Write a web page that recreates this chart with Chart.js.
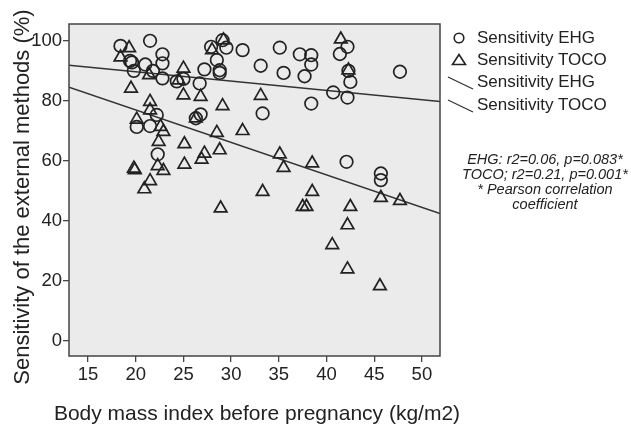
<!DOCTYPE html>
<html>
<head>
<meta charset="utf-8">
<script src="https://cdn.jsdelivr.net/npm/chart.js@4"></script>
<style>
    body { margin: 0; background: #fff; font-family: "Liberation Sans", Arial, sans-serif; }
    #wrap { position: relative; width: 631px; height: 429px; overflow: hidden; }
    .legend-row { position: absolute; left: 440px; height: 22px; line-height: 22px; font-size: 17px; color: #222; white-space: nowrap; }
    .legend-row svg { position: absolute; left: 0; top: 0; }
    .legend-row span { position: absolute; left: 37px; top: 0; }
    #note { position: absolute; left: 445px; top: 152px; width: 200px; text-align: center; font-style: italic; font-size: 14.5px; line-height: 15px; color: #222; }
    #xtitle { position: absolute; left: 0; top: 401px; width: 514px; line-height: 24px; text-align: center; font-size: 21px; color: #222; white-space: nowrap; }
    #ytitle { position: absolute; left: -178px; top: 185px; width: 400px; line-height: 24px; text-align: center; font-size: 22px; color: #222; white-space: nowrap; transform: rotate(-90deg); }
</style>
</head>
<body>
<div id="wrap">
    <canvas id="chart" width="631" height="429"></canvas>
    <div id="xtitle">Body mass index before pregnancy (kg/m2)</div>
    <div id="ytitle">Sensitivity of the external methods (%)</div>
    <div class="legend-row" style="top:27px">
        <svg width="36" height="22"><circle cx="19" cy="11" r="4.8" fill="none" stroke="#222" stroke-width="1.6"/></svg>
        <span>Sensitivity EHG</span>
    </div>
    <div class="legend-row" style="top:49px">
        <svg width="36" height="22"><polygon points="19,5.5 25.5,15.5 12.5,15.5" fill="none" stroke="#222" stroke-width="1.6"/></svg>
        <span>Sensitivity TOCO</span>
    </div>
    <div class="legend-row" style="top:71px">
        <svg width="36" height="22"><line x1="8" y1="6" x2="33" y2="18" stroke="#333" stroke-width="1.3"/></svg>
        <span>Sensitivity EHG</span>
    </div>
    <div class="legend-row" style="top:94px">
        <svg width="36" height="22"><line x1="8" y1="6" x2="33" y2="18" stroke="#333" stroke-width="1.3"/></svg>
        <span>Sensitivity TOCO</span>
    </div>
    <div id="note">EHG: r2=0.06, p=0.083*<br>TOCO; r2=0.21, p=0.001*<br>* Pearson correlation<br>coefficient</div>
</div>
<script>
    // EHG sensitivity vs BMI
    const ehgBmi = [21.5, 18.4, 22.8, 19.4, 19.8, 19.6, 21.0, 21.8, 22.8, 22.8, 24.3, 25.0, 22.2, 20.1, 21.5, 22.3,
        27.9, 29.5, 29.1, 31.2, 35.1, 37.2, 28.5, 33.1, 27.2, 28.8, 28.8, 35.5, 37.7, 26.7, 38.4, 33.3, 26.8, 26.3,
        38.4, 38.4, 42.2, 41.4, 42.3, 42.5, 40.7, 42.2, 47.7, 42.1, 45.7, 45.7];
    const ehgSens = [100, 98.3, 95.5, 93.3, 90.0, 92.8, 92.1, 90.0, 92.5, 87.5, 86.5, 87.3, 75.3, 71.3, 71.6, 62.2,
        98.0, 97.7, 100.2, 96.9, 97.7, 95.5, 93.6, 91.7, 90.5, 90.2, 89.3, 89.3, 88.2, 85.8, 79.1, 75.8, 75.5, 74.2,
        95.2, 92.1, 98.0, 95.6, 90.0, 86.3, 82.8, 81.1, 89.7, 59.7, 55.8, 53.6];

    // TOCO sensitivity vs BMI
    const tocoBmi = [19.3, 18.4, 19.5, 21.5, 21.5, 20.1, 21.4, 25.0, 25.0, 24.5, 28.0, 29.2, 26.8, 29.1, 33.1, 26.3,
        41.5, 42.3, 22.6, 22.9, 22.4, 22.3, 22.9, 19.8, 19.9, 21.5, 20.9, 25.1, 25.1, 28.5, 31.2, 27.2, 26.9, 28.8,
        35.1, 35.5, 33.3, 28.9, 37.5, 37.9, 38.5, 38.5, 45.7, 47.7, 42.5, 42.2, 40.6, 42.2, 45.6];
    const tocoSens = [97.6, 94.5, 84.1, 79.7, 76.9, 73.8, 88.6, 90.8, 81.9, 86.9, 96.9, 100.2, 81.4, 78.3, 81.7, 74.2,
        100.5, 90.2, 71.4, 69.7, 66.4, 58.3, 56.7, 57.5, 57.0, 53.3, 50.6, 65.6, 58.8, 69.4, 70.0, 62.5, 60.5, 63.6,
        62.2, 57.7, 49.7, 44.2, 44.7, 44.7, 49.7, 59.2, 47.7, 46.7, 44.7, 38.6, 32.0, 23.9, 18.3];

    // linear fits: [intercept, slope]
    const ehgFit = [95.9, -0.311];
    const tocoFit = [98.6, -1.081];

    const xTicks = [15, 20, 25, 30, 35, 40, 45, 50];
    const yTicks = [0, 20, 40, 60, 80, 100];
    const xMin = 13, xMax = 51.9;
    const yMin = -5, yMax = 105.6;

    const toPoints = (xs, ys) => xs.map((x, i) => ({ x: x, y: ys[i] }));
    const fitLine = (fit) => [xMin, xMax].map(x => ({ x: x, y: fit[0] + fit[1] * x }));

    const plotFrame = {
        id: 'plotFrame',
        beforeDatasetsDraw(chart) {
            const { ctx, chartArea: a } = chart;
            ctx.save();
            ctx.fillStyle = '#ebebeb';
            ctx.fillRect(a.left, a.top, a.right - a.left, a.bottom - a.top);
            ctx.restore();
        },
        afterDraw(chart) {
            const { ctx, chartArea: a } = chart;
            ctx.save();
            ctx.strokeStyle = '#444';
            ctx.lineWidth = 1.5;
            ctx.strokeRect(a.left, a.top, a.right - a.left, a.bottom - a.top);
            ctx.restore();
        }
    };

    const tickFont = { family: '"Liberation Sans", Arial, sans-serif', size: 18.5 };

    new Chart(document.getElementById('chart').getContext('2d'), {
        type: 'scatter',
        data: {
            datasets: [
                {
                    label: 'Sensitivity EHG',
                    data: toPoints(ehgBmi, ehgSens),
                    pointStyle: 'circle',
                    pointRadius: 6.3,
                    borderColor: '#222',
                    borderWidth: 1.7,
                    backgroundColor: 'rgba(0,0,0,0)'
                },
                {
                    label: 'Sensitivity TOCO',
                    data: toPoints(tocoBmi, tocoSens),
                    pointStyle: 'triangle',
                    pointRadius: 7.3,
                    borderColor: '#222',
                    borderWidth: 1.7,
                    backgroundColor: 'rgba(0,0,0,0)'
                },
                {
                    label: 'Fit EHG',
                    type: 'line',
                    data: fitLine(ehgFit),
                    borderColor: '#333',
                    borderWidth: 1.5,
                    pointRadius: 0,
                    fill: false
                },
                {
                    label: 'Fit TOCO',
                    type: 'line',
                    data: fitLine(tocoFit),
                    borderColor: '#333',
                    borderWidth: 1.5,
                    pointRadius: 0,
                    fill: false
                }
            ]
        },
        options: {
            responsive: false,
            animation: false,
            layout: { padding: { left: 0, right: 191, top: 24, bottom: 0 } },
            plugins: { legend: { display: false }, tooltip: { enabled: false } },
            scales: {
                x: {
                    type: 'linear',
                    min: xMin,
                    max: xMax,
                    afterBuildTicks: scale => { scale.ticks = xTicks.map(v => ({ value: v })); },
                    afterFit: scale => { scale.height = 73; },
                    grid: { drawOnChartArea: false, drawTicks: true, tickLength: 6, color: '#444', lineWidth: 1.3 },
                    border: { display: false },
                    ticks: { font: tickFont, color: '#222', padding: 2, maxRotation: 0 }
                },
                y: {
                    type: 'linear',
                    min: yMin,
                    max: yMax,
                    afterBuildTicks: scale => { scale.ticks = yTicks.map(v => ({ value: v })); },
                    afterFit: scale => { scale.width = 69; },
                    grid: { drawOnChartArea: false, drawTicks: true, tickLength: 6, color: '#444', lineWidth: 1.3 },
                    border: { display: false },
                    ticks: { font: tickFont, color: '#222', padding: 1 }
                }
            }
        },
        plugins: [plotFrame]
    });
</script>
</body>
</html>
